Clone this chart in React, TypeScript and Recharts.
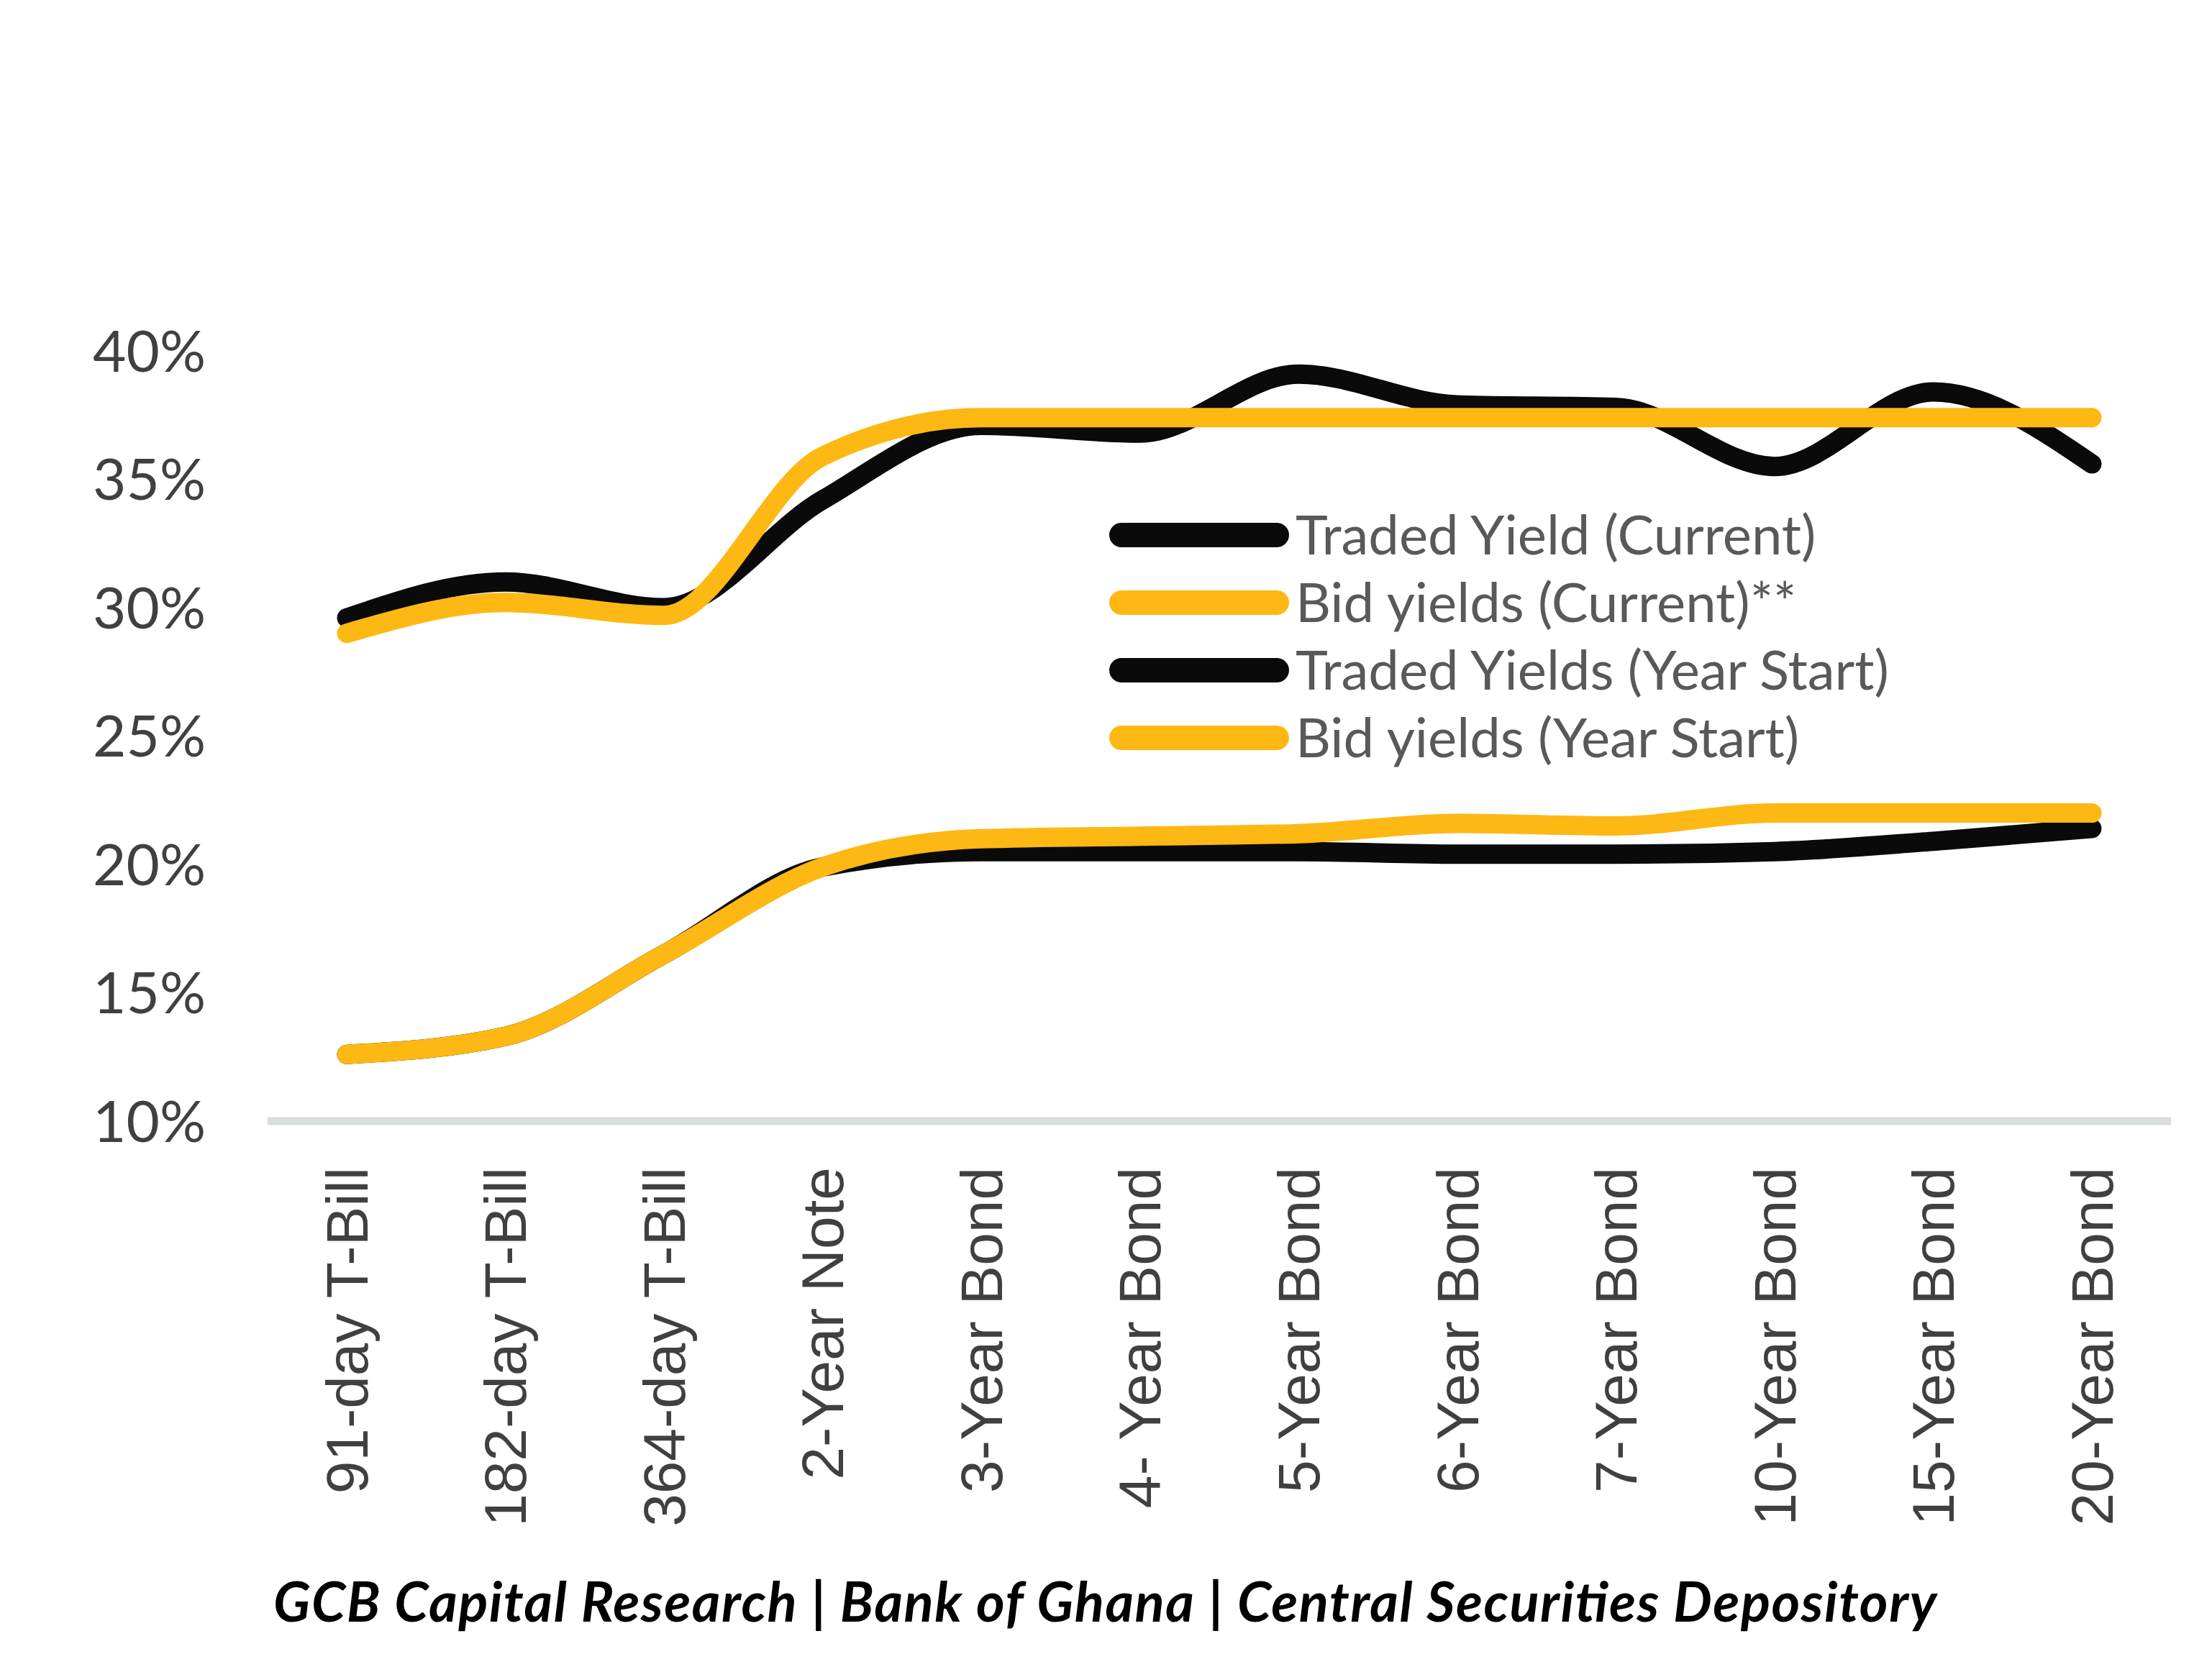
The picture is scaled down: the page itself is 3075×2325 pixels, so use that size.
import { Legend, Line, LineChart, XAxis, YAxis } from 'recharts';

const tenors = [
  '91-day T-Bill',
  '182-day T-Bill',
  '364-day T-Bill',
  '2-Year Note',
  '3-Year Bond',
  '4- Year Bond',
  '5-Year Bond',
  '6-Year Bond',
  '7-Year Bond',
  '10-Year Bond',
  '15-Year Bond',
  '20-Year Bond',
];

const tradedCurrent = [29.6, 31.0, 30.0, 34.2, 37.1, 36.8, 39.1, 37.9, 37.8, 35.5, 38.4, 35.6];
const bidCurrent = [29.0, 30.2, 29.7, 35.9, 37.4, 37.4, 37.4, 37.4, 37.4, 37.4, 37.4, 37.4];
const tradedStart = [12.6, 13.3, 16.5, 19.9, 20.5, 20.5, 20.5, 20.4, 20.4, 20.5, 20.9, 21.4];
const bidStart = [12.6, 13.3, 16.5, 19.9, 21.0, 21.1, 21.2, 21.6, 21.5, 22.0, 22.0, 22.0];

const yTicks = [10, 15, 20, 25, 30, 35, 40];

const BLACK = '#0a0a0a';
const GOLD = '#FDB813';

const series = [
  { key: 'tradedCurrent', name: 'Traded Yield (Current)', color: BLACK },
  { key: 'bidCurrent', name: 'Bid yields (Current)**', color: GOLD },
  { key: 'tradedStart', name: 'Traded Yields (Year Start)', color: BLACK },
  { key: 'bidStart', name: 'Bid yields (Year Start)', color: GOLD },
];

const data = tenors.map((t, i) => ({
  tenor: t,
  tradedCurrent: tradedCurrent[i],
  bidCurrent: bidCurrent[i],
  tradedStart: tradedStart[i],
  bidStart: bidStart[i],
}));

const YTick = ({ x, y, payload }: any) => (
  <text
    x={x}
    y={y}
    dy="0.36em"
    textAnchor="end"
    fill="#404040"
    fontFamily="Lato"
    fontSize={80}
  >
    {payload.value}%
  </text>
);

const XTick = ({ x, y, payload }: any) => (
  <text
    x={x}
    y={y}
    dy="0.35em"
    textAnchor="end"
    transform={`rotate(-90, ${x}, ${y})`}
    fill="#404040"
    fontFamily="Liberation Sans"
    fontSize={82}
  >
    {payload.value}
  </text>
);

const order = series.map((s) => s.name);

const LegendBox = ({ payload }: any) => {
  const items = [...(payload || [])].sort(
    (a: any, b: any) => order.indexOf(a.value) - order.indexOf(b.value)
  );
  return (
    <svg width={1400} height={400}>
      {items.map((p: any, i: number) => {
        const cy = 62 + i * 94;
        return (
          <g key={p.value}>
            <line
              x1={37}
              x2={253}
              y1={cy}
              y2={cy}
              stroke={p.color}
              strokeWidth={34}
              strokeLinecap="round"
            />
            <text
              x={279}
              y={cy}
              dy="0.36em"
              fill="#595959"
              fontFamily="Lato"
              fontSize={76}
            >
              {p.value}
            </text>
          </g>
        );
      })}
    </svg>
  );
};

export default function App() {
  return (
    <div style={{ position: 'relative', width: 3067, height: 2317, background: '#fff' }}>
      <LineChart
        width={3067}
        height={2317}
        data={data}
        margin={{ top: 480, right: 57, bottom: 0, left: 0 }}
      >
        <XAxis
          dataKey="tenor"
          interval={0}
          height={766}
          padding={{ left: 110, right: 110 }}
          tick={<XTick />}
          tickLine={false}
          tickSize={0}
          tickMargin={64}
          axisLine={{ stroke: '#D9DEDD', strokeWidth: 11 }}
        />
        <YAxis
          domain={[10, 40]}
          ticks={yTicks}
          width={364}
          tick={<YTick />}
          tickLine={false}
          tickSize={0}
          tickMargin={86}
          axisLine={false}
        />
        <Legend
          layout="vertical"
          align="center"
          verticalAlign="middle"
          content={<LegendBox />}
          wrapperStyle={{ left: 1514, top: 674, width: 1400, height: 400 }}
        />
        {series.map((s) => (
          <Line
            key={s.key}
            dataKey={s.key}
            name={s.name}
            type="monotone"
            stroke={s.color}
            strokeWidth={27}
            strokeLinecap="round"
            dot={false}
            activeDot={false}
            isAnimationActive={false}
          />
        ))}
      </LineChart>
      <svg
        width={3067}
        height={2317}
        style={{ position: 'absolute', left: 0, top: 0, pointerEvents: 'none' }}
      >
        <text
          x={372}
          y={2247}
          fill="#000"
          fontFamily="Lato"
          fontStyle="italic"
          fontWeight={700}
          fontSize={76}
          textLength={2312}
          lengthAdjust="spacing"
        >
          GCB Capital Research | Bank of Ghana | Central Securities Depository
        </text>
      </svg>
    </div>
  );
}
